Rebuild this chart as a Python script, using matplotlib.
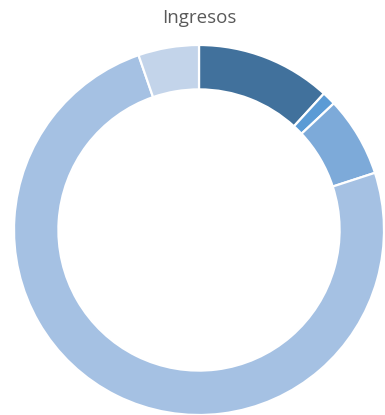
import matplotlib
matplotlib.use("Agg")
import matplotlib.pyplot as plt

# Income breakdown shares (percent), clockwise from 12 o'clock
segments = ["A", "B", "C", "D", "E"]
shares = [11.8, 1.2, 7.0, 74.7, 5.3]
colors = ["#41719C", "#5B9BD5", "#7DAAD9", "#A5C1E3", "#C3D4EA"]
title = "Ingresos"

W, H = 385, 415
fig = plt.figure(figsize=(W / 100, H / 100), dpi=100)

cx, cy, r = 199, 230, 185
ax = fig.add_axes([(cx - r) / W, (H - cy - r) / H, 2 * r / W, 2 * r / H])
ax.pie(
    shares,
    colors=colors,
    startangle=90,
    counterclock=False,
    radius=1.0,
    wedgeprops=dict(width=0.24, edgecolor="white", linewidth=1.6),
)
ax.set_xlim(-1, 1)
ax.set_ylim(-1, 1)
ax.set_aspect("equal")
ax.axis("off")

fig.text(cx / W, 1 - 18 / H, title, ha="center", va="center",
         fontsize=13.5, color="#595959", family=["Open Sans", "DejaVu Sans"])

fig.savefig("out.png", dpi=100)
